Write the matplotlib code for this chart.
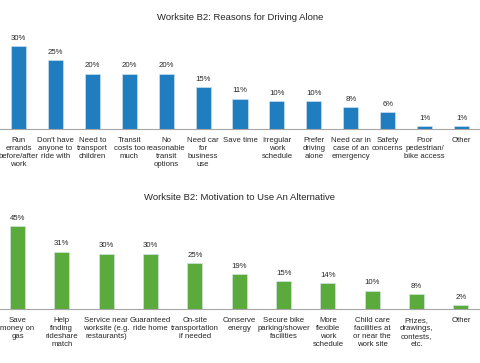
import matplotlib
matplotlib.use("Agg")
import matplotlib.pyplot as plt

plt.rcParams['font.family'] = ['Liberation Sans', 'DejaVu Sans']

top_title = "Worksite B2: Reasons for Driving Alone"
top_categories = ["Run\nerrands\nbefore/after\nwork", "Don't have\nanyone to\nride with",
                  "Need to\ntransport\nchildren", "Transit\ncosts too\nmuch",
                  "No\nreasonable\ntransit\noptions", "Need car\nfor\nbusiness\nuse",
                  "Save time", "Irregular\nwork\nschedule", "Prefer\ndriving\nalone",
                  "Need car in\ncase of an\nemergency", "Safety\nconcerns",
                  "Poor\npedestrian/\nbike access", "Other"]
top_values = [30, 25, 20, 20, 20, 15, 11, 10, 10, 8, 6, 1, 1]

bottom_title = "Worksite B2: Motivation to Use An Alternative"
bottom_categories = ["Save\nmoney on\ngas", "Help\nfinding\nrideshare\nmatch",
                     "Service near\nworksite (e.g.\nrestaurants)", "Guaranteed\nride home",
                     "On-site\ntransportation\nif needed", "Conserve\nenergy",
                     "Secure bike\nparking/shower\nfacilities", "More\nflexible\nwork\nschedule",
                     "Child care\nfacilities at\nor near the\nwork site",
                     "Prizes,\ndrawings,\ncontests,\netc.", "Other"]
bottom_values = [45, 31, 30, 30, 25, 19, 15, 14, 10, 8, 2]

W, H = 480, 363
fig = plt.figure(figsize=(W / 100, H / 100), dpi=100)

def panel(rect, cats, vals, color, xlim, ylim, width, title, title_y):
    ax = fig.add_axes(rect)
    x = list(range(len(cats)))
    ax.bar(x, vals, width=width, color=color, edgecolor='#d8e8f0', linewidth=0.4)
    for xi, v in zip(x, vals):
        ax.annotate(f"{v}%", (xi, v), xytext=(0, 3), textcoords='offset points',
                    ha='center', va='bottom', fontsize=5.6, color='#262626')
    ax.set_xlim(*xlim)
    ax.set_ylim(*ylim)
    ax.set_xticks(x)
    ax.set_xticklabels(cats, fontsize=5.6, color='#262626', linespacing=1.2, va='top')
    ax.tick_params(axis='x', length=0, pad=6)
    ax.set_yticks([])
    for s in ['top', 'right', 'left']:
        ax.spines[s].set_visible(False)
    ax.spines['bottom'].set_color('#a6a6a6')
    ax.spines['bottom'].set_linewidth(0.8)
    ax.patch.set_alpha(0)
    fig.text(0.5, title_y, title, ha='center', va='center', fontsize=6.8, color='#262626')
    return ax

# top panel: baseline at y=129 px, 2.77 px per %
top_h = 35 * 2.77
panel([0, 1 - 129 / H, 1, top_h / H], top_categories, top_values, '#1f7dc0',
      (-0.5, 12.5), (0, 35), 0.41, top_title, 1 - 17 / H)

# bottom panel: baseline at y=309 px, 1.85 px per %
bot_h = 50 * 1.85
panel([0, 1 - 309 / H, 1, bot_h / H], bottom_categories, bottom_values, '#5aaa3c',
      (-0.395, 10.43), (0, 50), 0.34, bottom_title, 1 - 197 / H)

fig.savefig("out.png", dpi=100)
